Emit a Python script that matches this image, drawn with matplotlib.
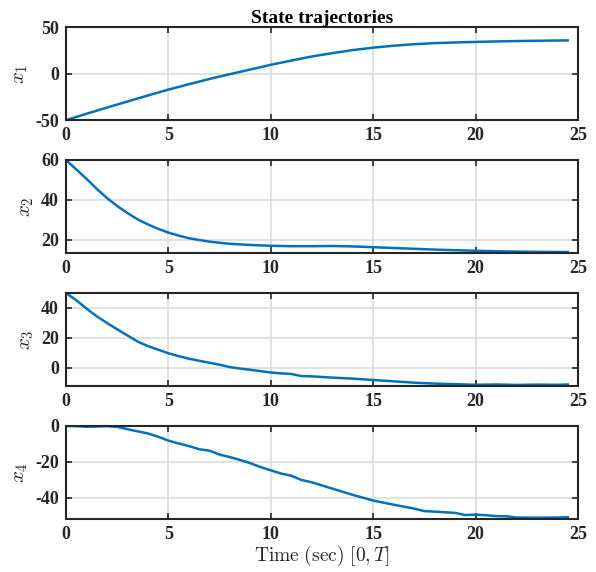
import numpy as np
import matplotlib
matplotlib.use('Agg')
import matplotlib.pyplot as plt

# time samples (sec)
t1 = [0, 1, 2, 3, 4, 5, 6, 7, 8, 9, 10, 11, 12, 13, 14, 15, 16, 17, 18, 19,
      20, 21, 22, 23, 24, 24.5]
x1 = [-50, -43.2, -36.5, -30.0, -23.5, -17.2, -11.4, -5.8, -0.6, 4.4, 9.5,
      14.0, 18.4, 22.0, 25.3, 27.9, 30.0, 31.6, 32.8, 33.5, 34.1, 34.6, 35.0,
      35.3, 35.6, 35.7]

t2 = [0, 0.5, 1, 1.5, 2, 2.5, 3, 3.5, 4, 4.5, 5, 5.5, 6, 6.5, 7, 7.5, 8, 9,
      10, 11, 12, 13, 14, 15, 16, 17, 18, 19, 20, 21, 22, 23, 24, 24.5]
x2 = [60, 55.3, 50.6, 45.6, 41.0, 37.0, 33.5, 30.3, 27.8, 25.6, 23.7, 22.2,
      20.9, 20.0, 19.2, 18.6, 18.1, 17.5, 17.1, 16.9, 16.9, 17.0, 16.8, 16.4,
      16.0, 15.6, 15.2, 14.9, 14.6, 14.4, 14.2, 14.1, 14.0, 14.0]

t3 = [0, 0.5, 1, 1.5, 2, 2.5, 3, 3.5, 4, 4.5, 5, 5.5, 6, 6.5, 7, 7.5, 8,
      8.5, 9, 9.5, 10, 10.5, 11, 11.5, 12, 13, 14, 15, 16, 17, 18, 19, 20,
      21, 22, 23, 24, 24.5]
x3 = [50, 45.2, 39.6, 34.5, 30.0, 25.8, 21.7, 17.6, 14.6, 12.2, 9.8, 7.9,
      6.2, 4.8, 3.5, 2.2, 0.6, -0.4, -1.2, -2.1, -3.0, -3.6, -4.0, -5.4,
      -5.6, -6.4, -7.1, -8.0, -8.9, -9.8, -10.4, -10.8, -11.2, -11.0, -11.3,
      -11.1, -11.2, -11.0]

t4 = [0, 0.5, 1, 1.5, 2, 2.5, 3, 3.5, 4, 4.5, 5, 5.5, 6, 6.5, 7, 7.5, 8,
      8.5, 9, 9.5, 10, 10.5, 11, 11.5, 12, 13, 14, 15, 16, 17, 17.5, 18, 19,
      19.5, 20, 20.5, 21, 21.5, 22, 23, 24, 24.5]
x4 = [0, -0.1, -0.4, -0.3, -0.1, -0.5, -1.8, -3.0, -4.2, -6.0, -8.2, -9.8,
      -11.2, -13.0, -13.8, -16.0, -17.4, -19.0, -20.8, -23.0, -24.8, -26.6,
      -27.8, -30.2, -31.5, -35.0, -38.5, -41.7, -44.0, -46.2, -47.6, -47.9,
      -48.6, -49.8, -49.6, -49.9, -50.4, -50.5, -51.2, -51.3, -51.2, -51.0]

times = [t1, t2, t3, t4]
states = [x1, x2, x3, x4]
ylabels = ['$x_1$', '$x_2$', '$x_3$', '$x_4$']
ylims = [(-50, 50), (13.5, 60), (-12, 50), (-52, 0)]
yticks = [[-50, 0, 50], [20, 40, 60], [0, 20, 40], [-40, -20, 0]]

plt.rcParams['font.family'] = 'Liberation Serif'
plt.rcParams['mathtext.fontset'] = 'cm'
plt.rcParams['axes.unicode_minus'] = False

fig = plt.figure(figsize=(5.96, 5.72), dpi=100)
left, width, height = 0.1107, 0.859, 0.1626
bottoms = [0.790, 0.5577, 0.3252, 0.0927]

for i, (tt, y, lab) in enumerate(zip(times, states, ylabels)):
    ax = fig.add_axes([left, bottoms[i], width, height])
    ax.plot(tt, y, color='#0072BD', linewidth=1.8)
    ax.set_xlim(0, 25)
    ax.set_ylim(*ylims[i])
    ax.set_xticks([0, 5, 10, 15, 20, 25])
    ax.set_yticks(yticks[i])
    ax.grid(True, color='#dcdcdc', linewidth=1.2)
    ax.set_axisbelow(True)
    ax.tick_params(direction='in', top=True, right=True, length=4, width=1.2,
                   colors='#262626', labelsize=13, pad=5)
    for lbl in ax.get_xticklabels() + ax.get_yticklabels():
        lbl.set_fontweight('bold')
    for s in ax.spines.values():
        s.set_linewidth(1.5)
        s.set_color('#262626')
    ax.set_ylabel(lab, fontsize=15, color='#262626', labelpad=4)
    if i == 0:
        ax.set_title('State trajectories', fontsize=14, fontweight='bold', pad=3)
    if i == 3:
        ax.set_xlabel(r'$\mathrm{Time\ (sec)}\ [0,T]$', fontsize=14,
                      color='#262626', labelpad=1)

fig.savefig('out.png', dpi=100)
